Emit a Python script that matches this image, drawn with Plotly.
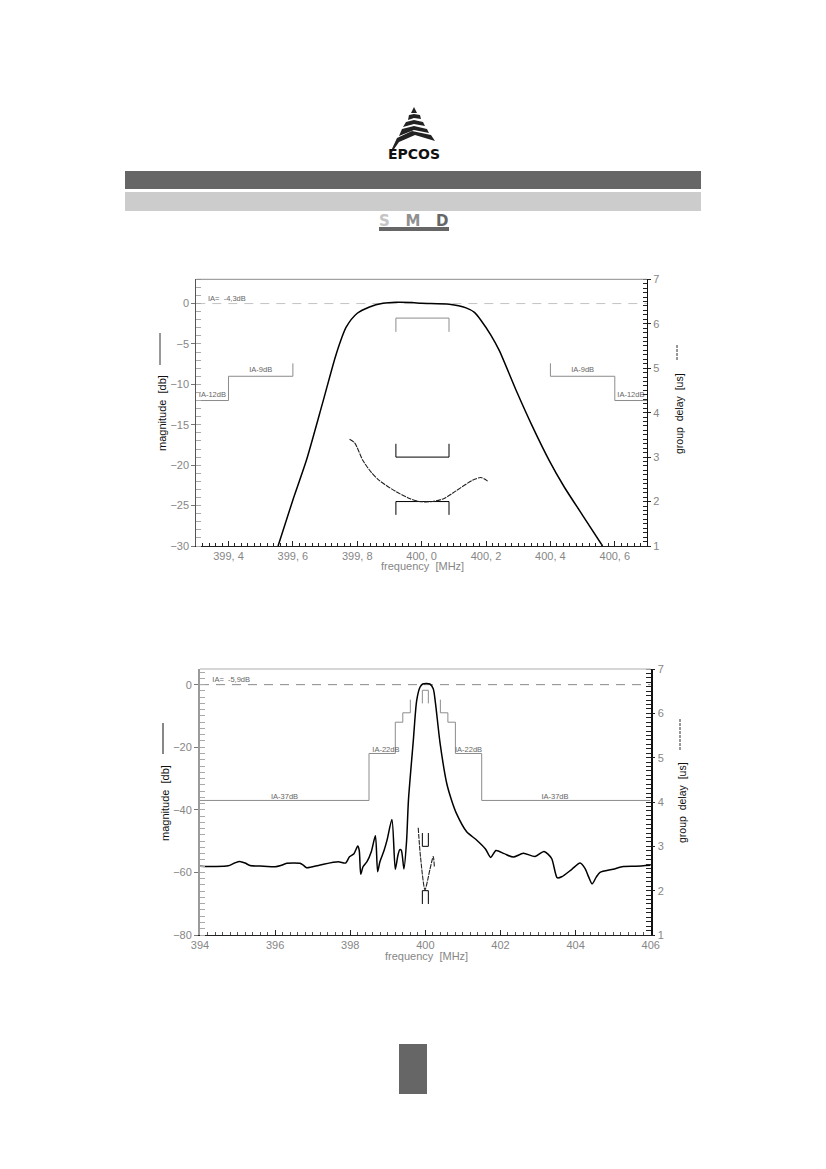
import plotly.graph_objects as go
from plotly.subplots import make_subplots

pageW = 826
pageH = 1169

# Upper chart: narrow span around the centre frequency
narrowFreq = [399.554, 399.6, 399.642, 399.693, 399.735, 399.766, 399.8, 399.838, 399.88, 399.92,
              399.97, 400.0, 400.086, 400.138, 400.164, 400.184, 400.215, 400.241, 400.293, 400.344, 400.396,
              400.443, 400.5, 400.562]
narrowMag = [-30, -24.3, -19.4, -12.2, -6.2, -2.9, -1.2, -0.42, 0.03, 0.16,
             0.12, 0.03, -0.08, -0.54, -1.1, -2.06, -3.9, -5.8, -10.7, -15.2, -19.4,
             -22.7, -26.2, -30]
narrowDelayFreq = [399.776, 399.792, 399.817, 399.843, 399.869, 399.921, 399.962, 399.993, 400.034,
                   400.07, 400.107, 400.158, 400.184, 400.205]
narrowDelay = [3.40, 3.32, 2.93, 2.66, 2.47, 2.22, 2.07, 2.0, 2.0,
               2.07, 2.24, 2.48, 2.54, 2.46]

narrowStepLeftX = [399.3, 399.4, 399.4, 399.6, 399.6]
narrowStepLeftY = [-12, -12, -9, -9, -7.4]
narrowStepRightX = [400.4, 400.4, 400.6, 400.6, 400.7]
narrowStepRightY = [-7.4, -9, -9, -12, -12]
narrowPassX = [399.92, 399.92, 400.085, 400.085]
narrowPassY = [-3.5, -1.8, -1.8, -3.5]
narrowDelayMaskX = [399.92, 399.92, 400.085, 400.085]
narrowDelayTopY = [3.3, 3.0, 3.0, 3.3]
narrowDelayBottomY = [1.7, 2.0, 2.0, 1.7]
narrowTickVals = [399.4, 399.6, 399.8, 400.0, 400.2, 400.4, 400.6]
narrowTickText = ["399, 4", "399, 6", "399, 8", "400, 0", "400, 2", "400, 4", "400, 6"]
narrowLabelX = [399.35, 399.5, 400.5, 400.65]
narrowLabelY = [-11.3, -8.3, -8.3, -11.3]
narrowLabelText = ["IA-12dB", "IA-9dB", "IA-9dB", "IA-12dB"]

# Lower chart: wide span
wideFreq = [394, 394.4, 394.75, 394.92, 395.06, 395.2, 395.33, 395.7, 396, 396.15, 396.31, 396.66, 396.75, 396.84,
            397.2, 397.68, 397.88, 397.98, 398.1, 398.2, 398.24, 398.28, 398.34, 398.45, 398.56, 398.67,
            398.73, 398.79, 398.9, 398.98, 399.11, 399.2, 399.27, 399.32, 399.36, 399.43, 399.5, 399.55,
            399.68, 399.77, 399.86, 399.93, 400.12, 400.21, 400.27, 400.39, 400.57, 400.7, 400.83, 401.1,
            401.37, 401.6, 401.74, 401.88, 402.1, 402.34, 402.61, 402.92, 403.16, 403.36, 403.51, 403.63,
            403.9, 404.12, 404.25, 404.35, 404.44, 404.55, 404.65, 405, 405.27, 405.6, 406]
wideMag = [-58.0, -58.1, -57.9, -57.0, -56.5, -57.0, -57.8, -58.0, -58.2, -57.8, -57.1, -57.1, -57.7, -58.5,
           -57.6, -56.6, -57.0, -55, -54.0, -51.6, -53, -60.6, -58.2, -56.5, -53.4, -48.3,
           -59.8, -56.6, -53.0, -49.7, -43.1, -59, -54.5, -52.7, -52.9, -58.9, -50, -36.9,
           -17.8, -5, -0.75, 0.2, 0.2, -1.3, -6, -18.5, -31.6, -37, -41.2, -47,
           -49.7, -52.5, -55.2, -53, -54, -55.1, -53.9, -54.9, -53.3, -55.5, -61.7, -61.4,
           -59, -57, -58.7, -61.5, -63.7, -61.5, -60, -59, -58.1, -58, -57.7]
wideDelayFreq = [399.81, 399.87, 399.99, 400.12, 400.21, 400.24]
wideDelay = [3.42, 2.77, 2.02, 2.47, 2.77, 2.54]

wideStepLeftX = [394, 398.5, 398.5, 399.2, 399.2, 399.4, 399.4, 399.6, 399.6]
wideStepLeftY = [-37, -37, -22, -22, -12, -12, -9, -9, -4.8]
wideStepRightX = [400.4, 400.4, 400.6, 400.6, 400.8, 400.8, 401.5, 401.5, 406]
wideStepRightY = [-4.8, -9, -9, -12, -12, -22, -22, -37, -37]
widePassX = [399.92, 399.92, 400.08, 400.08]
widePassY = [-6, -1.8, -1.8, -6]
wideDelayMaskX = [399.92, 399.92, 400.08, 400.08]
wideDelayTopY = [3.3, 3.0, 3.0, 3.3]
wideDelayBottomY = [1.7, 2.0, 2.0, 1.7]
wideTickVals = [394, 396, 398, 400, 402, 404, 406]
wideLabelX = [396.25, 398.95, 401.15, 403.45]
wideLabelY = [-36, -21, -21, -36]
wideLabelText = ["IA-37dB", "IA-22dB", "IA-22dB", "IA-37dB"]

refLevelX = {"narrow": [399.3, 400.7], "wide": [394, 406]}
refLevelY = [0, 0]

axisGray = "#8c8c8c"
textGray = "#868686"
textFont = "Liberation Sans"

# Logo outline, in page pixels
logoBands = [
    [(414, 107), (417, 113), (411, 113)],
    [(409, 115), (414, 114), (420, 115), (421, 119), (414, 118), (408, 120)],
    [(406, 122), (414, 120), (423, 122), (425, 126), (414, 124), (403, 127)],
    [(402, 129), (414, 126), (427, 129), (429, 133), (414, 130), (399, 136)],
    [(397, 138), (412, 131), (431, 135), (435, 141), (415, 135), (399, 142), (392, 152), (391, 151)],
]


def px(x):
    return x / pageW


def py(y):
    return 1 - y / pageH


def addPageRect(fig, x0, y0, x1, y1, color):
    fig.add_shape(type="rect", xref="paper", yref="paper", x0=px(x0), x1=px(x1), y0=py(y0), y1=py(y1),
                  fillcolor=color, line_width=0, layer="below")


def addPageLine(fig, x, y0, y1, color, dash="solid"):
    fig.add_shape(type="line", xref="paper", yref="paper", x0=px(x), x1=px(x), y0=py(y0), y1=py(y1),
                  line=dict(color=color, width=1, dash=dash))


def addPageText(fig, x, y, text, size=11, color=textGray, angle=0, bold=False, family=textFont):
    fig.add_annotation(x=px(x), y=py(y), xref="paper", yref="paper", text=text, showarrow=False,
                       textangle=angle, xanchor="center", yanchor="middle",
                       font=dict(family=family, size=size, color=color, weight="bold" if bold else "normal"))


def addLine(fig, row, x, y, color, width=1, dash="solid", right=False, smooth=False):
    line = dict(color=color, width=width, dash=dash)
    if smooth:
        line.update(shape="spline", smoothing=0.7)
    fig.add_trace(go.Scatter(x=x, y=y, mode="lines", line=line, hoverinfo="skip", showlegend=False),
                  row=row, col=1, secondary_y=right)


def drawChart(fig, row, span, magX, magY, delayX, delayY, stepLeft, stepRight, passMask, delayMaskX,
              delayTopY, delayBottomY, labelX, labelY, labelText, refLabelX, refLabelY, refText):
    addLine(fig, row, refLevelX[span], refLevelY, "#c4c4c4" if span == "narrow" else "#8a8a8a", 1, "9px,7px")
    addLine(fig, row, stepLeft[0], stepLeft[1], axisGray)
    addLine(fig, row, stepRight[0], stepRight[1], axisGray)
    addLine(fig, row, passMask[0], passMask[1], axisGray)
    addLine(fig, row, magX, magY, "#000000", 1.5, smooth=True)
    addLine(fig, row, delayMaskX, delayTopY, "#000000", 1, right=True)
    addLine(fig, row, delayMaskX, delayBottomY, "#000000", 1, right=True)
    addLine(fig, row, delayX, delayY, "#222222", 1.1, "5px,1px", right=True, smooth=True)
    fig.add_trace(go.Scatter(x=labelX + [refLabelX], y=labelY + [refLabelY], mode="text",
                             text=labelText + [refText], textfont=dict(family=textFont, size=7.5, color="#666666"),
                             hoverinfo="skip", showlegend=False),
                  row=row, col=1)


fig = make_subplots(rows=2, cols=1, specs=[[{"secondary_y": True}], [{"secondary_y": True}]])

drawChart(fig, 1, "narrow", narrowFreq, narrowMag, narrowDelayFreq, narrowDelay,
          (narrowStepLeftX, narrowStepLeftY), (narrowStepRightX, narrowStepRightY), (narrowPassX, narrowPassY),
          narrowDelayMaskX, narrowDelayTopY, narrowDelayBottomY,
          narrowLabelX, narrowLabelY, narrowLabelText, 399.395, 0.53, "IA=  -4,3dB")
drawChart(fig, 2, "wide", wideFreq, wideMag, wideDelayFreq, wideDelay,
          (wideStepLeftX, wideStepLeftY), (wideStepRightX, wideStepRightY), (widePassX, widePassY),
          wideDelayMaskX, wideDelayTopY, wideDelayBottomY,
          wideLabelX, wideLabelY, wideLabelText, 394.83, 1.4, "IA=  -5,9dB")

tickFont = dict(family=textFont, size=11, color=textGray)

fig.update_layout(
    width=pageW,
    height=pageH,
    margin=dict(l=0, r=0, t=0, b=0, autoexpand=False),
    paper_bgcolor="white",
    plot_bgcolor="white",
    showlegend=False,
    xaxis=dict(domain=[px(196.3), px(647)], anchor="y", range=[399.3, 400.7], tickvals=narrowTickVals,
               ticktext=narrowTickText, ticks="inside", ticklen=5, tickcolor="#222222", tickfont=tickFont,
               showgrid=False, zeroline=False, showline=True, linecolor="#222222",
               minor=dict(dtick=0.02, tick0=399.4, ticks="inside", ticklen=3, tickcolor="#222222", showgrid=False)),
    yaxis=dict(domain=[py(546), py(279.3)], range=[-30, 3], tickvals=[0, -5, -10, -15, -20, -25, -30],
               ticktext=["0", "\u22125", "\u221210", "\u221215", "\u221220", "\u221225", "\u221230"],
               ticks="outside", ticklen=4, tickcolor="#777777", tickfont=tickFont, showgrid=False,
               zeroline=False, showline=True, linecolor="#555555",
               minor=dict(dtick=1, tick0=0, ticks="inside", ticklen=5, tickcolor="#aaaaaa", showgrid=False)),
    yaxis2=dict(domain=[py(546), py(279.3)], range=[1, 7], dtick=1, ticks="outside", ticklen=3,
                tickcolor="#222222", tickfont=tickFont, showgrid=False, zeroline=False, showline=True,
                linecolor="#111111", linewidth=1,
                minor=dict(dtick=0.1, tick0=1, ticks="inside", ticklen=4, tickcolor="#222222", showgrid=False)),
    xaxis2=dict(domain=[px(200), px(650.7)], anchor="y3", range=[394, 406], tickvals=wideTickVals,
                ticks="inside", ticklen=5, tickcolor="#222222", tickfont=tickFont, showgrid=False,
                zeroline=False, showline=True, linecolor="#222222",
                minor=dict(dtick=0.2, tick0=394, ticks="inside", ticklen=3, tickcolor="#555555", showgrid=False)),
    yaxis3=dict(domain=[py(935), py(669)], range=[-80, 5], tickvals=[0, -20, -40, -60, -80],
                ticktext=["0", "\u221220", "\u221240", "\u221260", "\u221280"],
                ticks="outside", ticklen=4, tickcolor="#777777", tickfont=tickFont, showgrid=False,
                zeroline=False, showline=True, linecolor="#9a9a9a", linewidth=2,
                minor=dict(dtick=2, tick0=0, ticks="inside", ticklen=5, tickcolor="#aaaaaa", showgrid=False)),
    yaxis4=dict(domain=[py(935), py(669)], range=[1, 7], dtick=1, ticks="outside", ticklen=3,
                tickcolor="#222222", tickfont=tickFont, showgrid=False, zeroline=False, showline=True,
                linecolor="#111111", linewidth=1.5,
                minor=dict(dtick=0.1, tick0=1, ticks="inside", ticklen=5, tickcolor="#222222", showgrid=False)),
)

# top border of each plot
fig.add_shape(type="line", xref="paper", yref="paper", x0=px(196.3), x1=px(647), y0=py(279.3), y1=py(279.3),
              line=dict(color="#8a8a8a", width=1))
fig.add_shape(type="line", xref="paper", yref="paper", x0=px(200), x1=px(650.7), y0=py(669), y1=py(669),
              line=dict(color="#c8c8c8", width=1.5))

# header bars and page marker
addPageRect(fig, 125, 171, 701, 189, "#666666")
addPageRect(fig, 125, 192, 701, 211, "#cccccc")
addPageRect(fig, 399, 1044, 427, 1094, "#666666")

# logo
for band in logoBands:
    path = "M" + " L".join(f"{px(x):.5f} {py(y):.5f}" for x, y in band) + " Z"
    fig.add_shape(type="path", xref="paper", yref="paper", path=path, fillcolor="#222222", line_width=0)

addPageText(fig, 414, 153.5, "EPCOS", size=14, color="#111111", bold=True, family="DejaVu Sans")

# SMD badge
addPageRect(fig, 379, 227, 449, 231, "#666666")
addPageText(fig, 414, 220.5,
            "<span style='color:#c4c4c4'>S</span>\u00a0\u00a0\u00a0<span style='color:#909090'>M</span>\u00a0\u00a0\u00a0"
            "<span style='color:#666666'>D</span>",
            size=15, bold=True, family="DejaVu Sans")

# axis captions and line samples
addPageText(fig, 422, 566, "frequency  [MHz]", size=11)
addPageText(fig, 426, 956, "frequency  [MHz]", size=11)
addPageText(fig, 162, 413, "magnitude  [db]", size=11, color="#111111", angle=-90)
addPageText(fig, 165, 803, "magnitude  [db]", size=11, color="#111111", angle=-90)
addPageText(fig, 679, 414, "group  delay  [us]", size=10.5, color="#111111", angle=-90)
addPageText(fig, 682, 803, "group  delay  [us]", size=10.5, color="#111111", angle=-90)
addPageLine(fig, 160, 333, 365, "#333333")
addPageLine(fig, 163, 723, 754, "#111111")
addPageLine(fig, 677, 345, 361, "#333333", "3px,1px")
addPageLine(fig, 680, 719, 750, "#333333", "3px,1px")

fig.write_html("out.html", config={"displayModeBar": False}, post_script="document.body.style.margin='0';")
